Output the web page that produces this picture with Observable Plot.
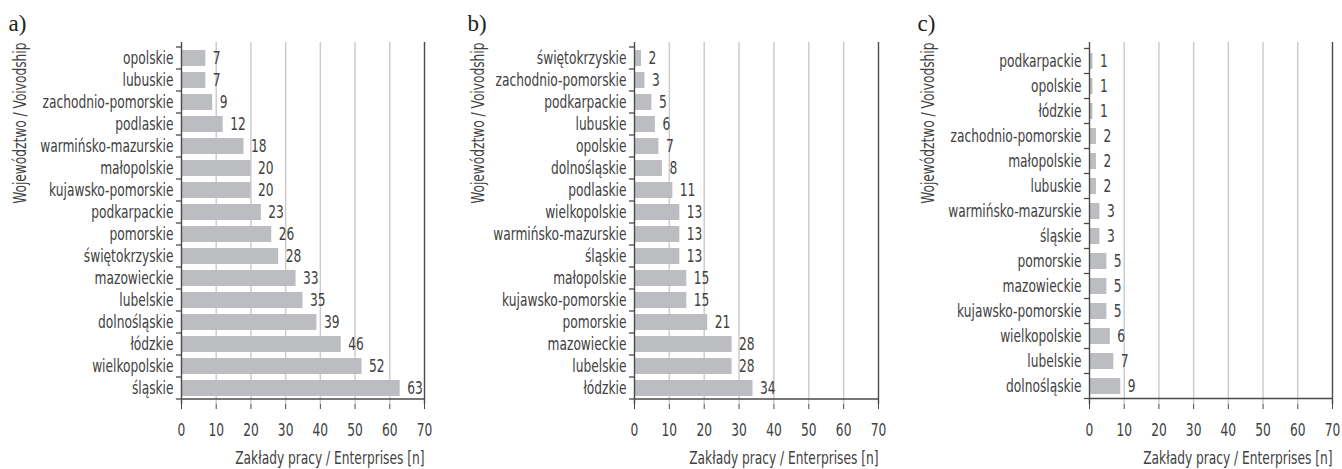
<!DOCTYPE html>
<html>
<head>
<meta charset="utf-8">
<script src="https://cdn.jsdelivr.net/npm/d3@7"></script>
<script src="https://cdn.jsdelivr.net/npm/@observablehq/plot@0.6"></script>
<style>
  html, body { margin: 0; padding: 0; background: #fff; }
  #chart { display: flex; width: 1342px; height: 469px; }
  #chart svg { display: block; overflow: visible; }
</style>
</head>
<body>
<div id="chart"></div>
<script>
// Panel a)
const namesA = ["opolskie", "lubuskie", "zachodnio-pomorskie", "podlaskie", "warmińsko-mazurskie", "małopolskie", "kujawsko-pomorskie", "podkarpackie", "pomorskie", "świętokrzyskie", "mazowieckie", "lubelskie", "dolnośląskie", "łódzkie", "wielkopolskie", "śląskie"];
const valuesA = [7, 7, 9, 12, 18, 20, 20, 23, 26, 28, 33, 35, 39, 46, 52, 63];

// Panel b)
const namesB = ["świętokrzyskie", "zachodnio-pomorskie", "podkarpackie", "lubuskie", "opolskie", "dolnośląskie", "podlaskie", "wielkopolskie", "warmińsko-mazurskie", "śląskie", "małopolskie", "kujawsko-pomorskie", "pomorskie", "mazowieckie", "lubelskie", "łódzkie"];
const valuesB = [2, 3, 5, 6, 7, 8, 11, 13, 13, 13, 15, 15, 21, 28, 28, 34];

// Panel c)
const namesC = ["podkarpackie", "opolskie", "łódzkie", "zachodnio-pomorskie", "małopolskie", "lubuskie", "warmińsko-mazurskie", "śląskie", "pomorskie", "mazowieckie", "kujawsko-pomorskie", "wielkopolskie", "lubelskie", "dolnośląskie"];
const valuesC = [1, 1, 1, 2, 2, 2, 3, 3, 5, 5, 5, 6, 7, 9];

const xTicks = [0, 10, 20, 30, 40, 50, 60, 70];
const gridTicks = [10, 20, 30, 40, 50, 60];
const panelLetters = ["a)", "b)", "c)"];
const xTitle = "Zakłady pracy / Enterprises [n]";
const yTitle = "Województwo / Voivodship";

const FONT = '"DejaVu Sans Condensed", "DejaVu Sans", sans-serif';
const INK = "#414141";
const AXIS = "#4a4a4a";
const BAR = "#bcbdc0";
const GRID = "#cdcdcd";
const NARROW = 0.8; // horizontal squeeze for a tall, narrow label face

// Small ticks at the band boundaries on the left axis, plus the bottom frame line
function boundaryTicks(names) {
  return (index, scales) => {
    const {x, y} = scales;
    const gap = (y.step() - y.bandwidth()) / 2;
    const x0 = x(0), x1 = x(70);
    const g = d3.create("svg:g").attr("stroke", AXIS).attr("stroke-width", 1.3);
    const edges = names.map((n) => y(n) - gap);
    edges.push(y(names[names.length - 1]) + y.bandwidth() + gap);
    for (const e of edges) {
      g.append("line").attr("x1", x0 - 5).attr("x2", x0).attr("y1", e).attr("y2", e);
    }
    g.append("line").attr("x1", x0).attr("x2", x1)
      .attr("y1", edges[edges.length - 1]).attr("y2", edges[edges.length - 1]);
    return g.node();
  };
}

function panel(names, values, letter, opts) {
  const data = names.map((name, i) => ({name, value: values[i]}));
  return Plot.plot({
    width: opts.width,
    height: 469,
    marginLeft: opts.left,
    marginRight: opts.right,
    marginTop: 42,
    marginBottom: 65,
    style: {fontFamily: FONT, fontSize: "17px", color: INK, background: "transparent"},
    x: {domain: [0, 70], ticks: xTicks, label: null},
    y: {domain: names, paddingInner: opts.padding, paddingOuter: opts.padding / 2, label: null},
    marks: [
      Plot.ruleX(gridTicks, {stroke: GRID, strokeWidth: 1.5}),
      Plot.barX(data, {x: "value", y: "name", fill: BAR}),
      Plot.text(data, {x: "value", y: "name", text: (d) => String(d.value), textAnchor: "start", dx: 7, fill: INK, fontSize: 17}),
      Plot.ruleX([0, 70], {stroke: AXIS, strokeWidth: 1.4}),
      boundaryTicks(names),
      Plot.axisX({ticks: xTicks, tickSize: 5, tickPadding: 14, stroke: AXIS, fill: INK, fontSize: 17, tickFormat: (d) => String(d)}),
      Plot.axisY({tickSize: 0, tickPadding: 8, fill: INK, fontSize: 17}),
      Plot.text([xTitle], {frameAnchor: "bottom-right", textAnchor: "end", lineAnchor: "middle", dy: 54, fill: INK, fontSize: 17}),
      Plot.text([yTitle], {frameAnchor: "top-left", rotate: -90, textAnchor: "end", lineAnchor: "middle", dx: -opts.yTitleOffset, fill: INK, fontSize: 17}),
      Plot.text([letter], {frameAnchor: "top-left", textAnchor: "start", lineAnchor: "middle", dx: -opts.letterOffset, dy: -19, fill: "#222", fontSize: 23, fontFamily: '"Liberation Serif", "DejaVu Serif", serif'})
    ]
  });
}

const chart = document.getElementById("chart");
chart.append(
  panel(namesA, valuesA, panelLetters[0], {width: 450, left: 181, right: 26, padding: 0.29, yTitleOffset: 161, letterOffset: 173}),
  panel(namesB, valuesB, panelLetters[1], {width: 450, left: 184, right: 22, padding: 0.29, yTitleOffset: 156, letterOffset: 167}),
  panel(namesC, valuesC, panelLetters[2], {width: 442, left: 189, right: 10, padding: 0.37, yTitleOffset: 161, letterOffset: 172})
);

// Condense the sans-serif labels about their anchor so they keep their height but run narrower
for (const t of chart.querySelectorAll("svg text")) {
  if (panelLetters.includes(t.textContent)) continue;
  const tr = t.getAttribute("transform");
  if (tr) {
    t.setAttribute("transform", `${tr} scale(${NARROW},1)`);
  } else {
    const x = +t.getAttribute("x") || 0, y = +t.getAttribute("y") || 0;
    t.setAttribute("transform", `translate(${x},${y}) scale(${NARROW},1) translate(${-x},${-y})`);
  }
}
</script>
</body>
</html>
